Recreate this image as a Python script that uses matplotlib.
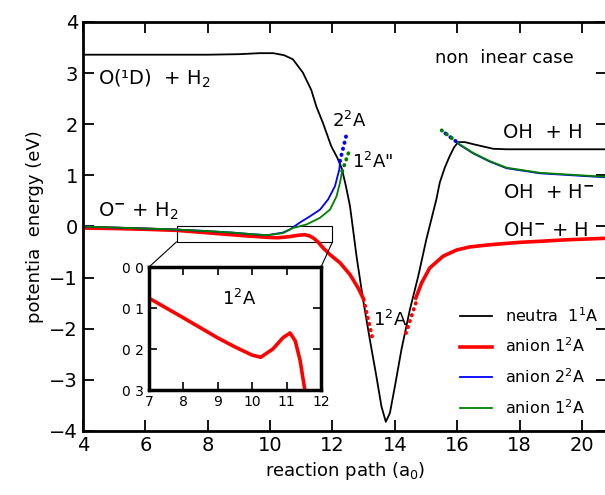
import numpy as np
import matplotlib
matplotlib.use('Agg')
import matplotlib.pyplot as plt
from matplotlib.patches import Rectangle, ConnectionPatch

# neutral 1^1A
neu_x = [4, 5, 6, 7, 8, 9, 9.67, 10.1, 10.45, 10.73, 11.05, 11.32, 11.48, 11.69, 11.96, 12.15, 12.3,
         12.43, 12.56, 12.66, 12.77, 12.98, 13.2, 13.41, 13.57, 13.71, 13.84, 14.0, 14.21,
         14.48, 14.75, 15.01, 15.33, 15.44, 15.6, 15.76, 15.9, 16.03, 16.25, 16.51, 17.15, 17.58, 18.5, 19.5, 20.8]
neu_y = [3.36, 3.36, 3.36, 3.36, 3.36, 3.37, 3.39, 3.39, 3.35, 3.27, 3.01, 2.67, 2.35, 2.03, 1.57, 1.35, 1.13,
         0.79, 0.40, -0.06, -0.58, -1.43, -2.22, -2.94, -3.52, -3.82, -3.65, -3.13, -2.41,
         -1.63, -0.97, -0.25, 0.53, 0.86, 1.15, 1.38, 1.55, 1.65, 1.65, 1.61, 1.52, 1.51, 1.51, 1.51, 1.51]

# anion 1^2A (red), solid parts and dotted parts
red_x1 = [4, 5, 6, 7, 8, 9, 9.5, 10.0, 10.25, 10.6, 10.9, 11.1, 11.25, 11.39, 11.53, 11.7,
          11.92, 12.24, 12.56, 12.82, 12.98]
red_y1 = [-0.03, -0.04, -0.055, -0.076, -0.124, -0.173, -0.195, -0.215, -0.22, -0.2, -0.172, -0.161,
          -0.18, -0.227, -0.30, -0.42, -0.55, -0.71, -0.94, -1.2, -1.4]
red_x2 = [14.67, 14.86, 15.12, 15.55, 15.98, 16.4, 17.0, 18.0, 18.65, 19.5, 20.8]
red_y2 = [-1.40, -1.1, -0.81, -0.58, -0.46, -0.40, -0.36, -0.31, -0.29, -0.26, -0.23]
red_dx1 = [13.0, 13.28]
red_dy1 = [-1.43, -2.18]
red_dx2 = [14.67, 14.32]
red_dy2 = [-1.5, -2.15]

# anion 2^2A (blue)
blue_x1 = [4, 5, 6, 7, 8, 8.81, 9.4, 9.9, 10.41, 10.63, 10.96, 11.28, 11.6, 11.86, 12.08, 12.22, 12.24]
blue_y1 = [0.0, -0.02, -0.04, -0.06, -0.09, -0.12, -0.15, -0.17, -0.12, -0.06, 0.08, 0.2, 0.33,
           0.53, 0.79, 1.12, 1.25]
blue_dx1 = [12.24, 12.47]
blue_dy1 = [1.28, 1.85]
blue_x2 = [16.0, 16.07, 16.51, 17.04, 17.58, 18.65, 19.72, 20.8]
blue_y2 = [1.64, 1.60, 1.43, 1.27, 1.14, 1.04, 1.0, 0.96]
blue_dx2 = [15.62, 15.97]
blue_dy2 = [1.82, 1.66]

# anion 1^2A'' (green)
green_x1 = [4, 5, 6, 7, 8, 8.81, 9.4, 9.9, 10.41, 10.73, 11.17, 11.6, 11.92, 12.13, 12.24, 12.31]
green_y1 = [0.0, -0.02, -0.04, -0.06, -0.09, -0.12, -0.15, -0.17, -0.13, -0.03, 0.04, 0.17, 0.33,
            0.59, 0.86, 1.08]
green_dx1 = [12.31, 12.56]
green_dy1 = [1.08, 1.52]
green_x2 = [16.0, 16.07, 16.51, 17.04, 17.58, 18.65, 19.72, 20.8]
green_y2 = [1.65, 1.61, 1.44, 1.28, 1.15, 1.05, 1.01, 0.97]
green_dx2 = [15.5, 15.95]
green_dy2 = [1.88, 1.67]

inset_yticks = [0.0, -0.1, -0.2, -0.3]
inset_ylabels = ['0 0', '0 1', '0 2', '0 3']

dots = (0, (0.1, 1.5))

fig = plt.figure(figsize=(6.05, 4.95), dpi=100)
ax = fig.add_axes([0.1372, 0.1293, 0.866, 0.8263])

ax.plot(neu_x, neu_y, color='black', lw=1.3, label='neutra  1$^1$A')
ax.plot(red_x1, red_y1, color='red', lw=2.6, label='anion 1$^2$A')
ax.plot(red_x2, red_y2, color='red', lw=2.6)
ax.plot(blue_x1, blue_y1, color='blue', lw=1.3, label='anion 2$^2$A')
ax.plot(blue_x2, blue_y2, color='blue', lw=1.3)
ax.plot(green_x1, green_y1, color='green', lw=1.3, label='anion 1$^2$A')
ax.plot(green_x2, green_y2, color='green', lw=1.3)
for xs, ys, c in [(red_dx1, red_dy1, 'red'), (red_dx2, red_dy2, 'red'),
                  (blue_dx1, blue_dy1, 'blue'), (blue_dx2, blue_dy2, 'blue'),
                  (green_dx1, green_dy1, 'green'), (green_dx2, green_dy2, 'green')]:
    ax.plot(xs, ys, color=c, lw=2.8, linestyle=dots, dash_capstyle='round')

ax.set_xlim(4, 20.8)
ax.set_ylim(-4, 4)
ax.set_xticks([4, 6, 8, 10, 12, 14, 16, 18, 20])
ax.set_yticks([-4, -3, -2, -1, 0, 1, 2, 3, 4])
ax.tick_params(direction='in', top=True, right=True, length=8, width=1.3, labelsize=14)
for s in ax.spines.values():
    s.set_linewidth(2)
ax.set_xlabel('reaction path (a$_0$)', fontsize=13)
ax.set_ylabel('potentia  energy (eV)', fontsize=13)

ax.text(4.48, 2.78, 'O(¹D)  + H$_2$', fontsize=14)
ax.text(4.48, 0.2, 'O$^{\\mathbf{-}}$ + H$_2$', fontsize=14)
ax.text(15.28, 3.2, 'non  inear case', fontsize=13)
ax.text(12.0, 1.95, '2$^2$A', fontsize=13)
ax.text(12.61, 1.15, '1$^2$A"', fontsize=13)
ax.text(17.46, 1.74, 'OH  + H', fontsize=14)
ax.text(17.46, 0.56, 'OH  + H$^{\\mathbf{-}}$', fontsize=14)
ax.text(17.46, -0.19, 'OH$^{\\mathbf{-}}$ + H', fontsize=14)
ax.text(13.3, -1.95, '1$^2$A', fontsize=13)

ax.legend(loc='lower right', frameon=False, fontsize=11.5, handlelength=2.0,
          labelspacing=0.75, bbox_to_anchor=(1.012, 0.0))

# inset
ins = fig.add_axes([0.2463, 0.2121, 0.2843, 0.2485])
ins.plot(red_x1, red_y1, color='red', lw=2.6)
ins.set_xlim(7, 12)
ins.set_ylim(-0.3, 0.0)
ins.set_xticks([7, 8, 9, 10, 11, 12])
ins.set_yticks(inset_yticks)
ins.set_yticklabels(inset_ylabels)
ins.tick_params(direction='in', top=True, right=True, length=6, width=1.2, labelsize=10)
for s in ins.spines.values():
    s.set_linewidth(2.5)
ins.text(9.12, -0.093, '1$^2$A', fontsize=13)

ax.add_patch(Rectangle((7, -0.3), 5, 0.3, fill=False, lw=0.8, ec='black'))
for xx in (7, 12):
    con = ConnectionPatch(xyA=(xx, -0.3), coordsA=ax.transData,
                          xyB=(xx, 0.0), coordsB=ins.transData, lw=0.8, color='black')
    fig.add_artist(con)

fig.savefig('out.png', dpi=100)
